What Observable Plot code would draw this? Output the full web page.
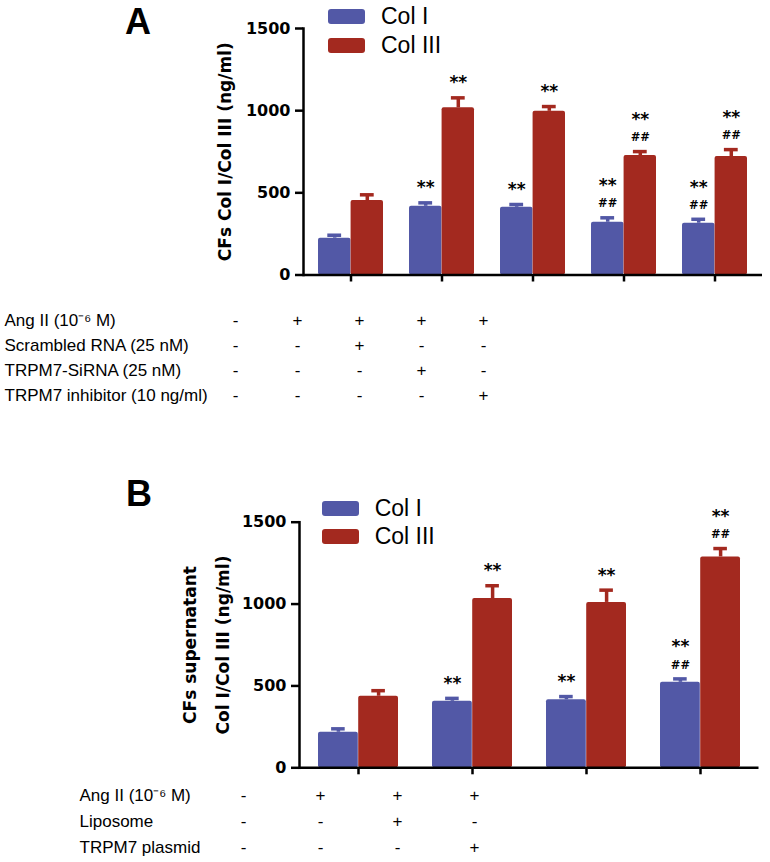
<!DOCTYPE html>
<html><head><meta charset="utf-8">
<script src="https://cdn.jsdelivr.net/npm/d3@7"></script>
<script src="https://cdn.jsdelivr.net/npm/@observablehq/plot@0.6"></script>
<style>
body{margin:0;background:#fff;}
#root{position:relative;width:770px;height:862px;overflow:hidden;font-family:"Liberation Sans",Arial,sans-serif;color:#000;}
#root svg{position:absolute;left:0;}
.abs{position:absolute;}
.letter{font-weight:bold;font-size:36px;line-height:36px;}
.leg{display:flex;align-items:center;font-size:23px;line-height:23px;height:15px;white-space:nowrap;}
.sw{width:37px;height:15px;border-radius:3px;margin-right:16px;flex:none;}
</style></head><body><div id="root"></div>
<script>
// ---- shared ----
const series = ["Col I", "Col III"];
const seriesColors = ["#5258a6", "#a3291f"];
const yTicks = [0, 500, 1000, 1500];

// ---- Panel A data ----
const groupsA = ["Control", "Ang II", "Ang II + Scrambled RNA", "Ang II + TRPM7-SiRNA", "Ang II + TRPM7 inhibitor"];
const colIA = [224, 418, 412, 321, 315];
const colIErrA = [18, 21, 17, 27, 24];
const colIIIA = [453, 1017, 996, 727, 721];
const colIIIErrA = [35, 61, 29, 24, 42];
const starsColIA = ["", "**", "**", "**", "**"];
const hashColIA = ["", "", "", "##", "##"];
const starsColIIIA = ["", "**", "**", "**", "**"];
const hashColIIIA = ["", "", "", "##", "##"];
const yLabelA = "CFs Col I/Col III (ng/ml)";
const rowLabelsA = ["Ang II (10⁻⁶ M)", "Scrambled RNA (25 nM)", "TRPM7-SiRNA (25 nM)", "TRPM7 inhibitor (10 ng/ml)"];
const rowSignsA = [
  ["-", "+", "+", "+", "+"],
  ["-", "-", "+", "-", "-"],
  ["-", "-", "-", "+", "-"],
  ["-", "-", "-", "-", "+"]
];

// ---- Panel B data ----
const groupsB = ["Control", "Ang II", "Ang II + Liposome", "Ang II + TRPM7 plasmid"];
const colIB = [217, 406, 415, 522];
const colIErrB = [21, 18, 20, 21];
const colIIIB = [437, 1034, 1010, 1288];
const colIIIErrB = [34, 78, 75, 51];
const starsColIB = ["", "**", "**", "**"];
const hashColIB = ["", "", "", "##"];
const starsColIIIB = ["", "**", "**", "**"];
const hashColIIIB = ["", "", "", "##"];
const yLabelB = "CFs supernatant\nCol I/Col III (ng/ml)";
const rowLabelsB = ["Ang II (10⁻⁶ M)", "Liposome", "TRPM7 plasmid"];
const rowSignsB = [
  ["-", "+", "+", "+"],
  ["-", "-", "+", "-"],
  ["-", "-", "-", "+"]
];

const root = document.getElementById("root");

function barPanel(o) {
  const n = o.groups.length;
  const pi = o.padInner, po = pi / 2;
  const step = (o.width - o.mL - o.mR) / (n - pi + 2 * po);
  const bw = step * (1 - pi);
  const capW = 14;
  const data = o.groups.map((g, i) => ({
    g, c1: o.c1[i], e1: o.e1[i], c3: o.c3[i], e3: o.e3[i],
    s1: o.s1[i], h1: o.h1[i], s3: o.s3[i], h3: o.h3[i]
  }));
  const [cB, cR] = seriesColors;
  const starSize = 17, hashSize = 11.5;
  const starAlone = -15, starStacked = -32, hashDy = -14;
  const marks = [
    Plot.barY(data, {x: "g", y: "c1", fill: cB, insetRight: bw / 2, rx: 2}),
    Plot.barY(data, {x: "g", y: "c3", fill: cR, insetLeft: bw / 2, rx: 2}),
    Plot.ruleX(data, {x: "g", y1: "c1", y2: d => d.c1 + d.e1, dx: -bw / 4, stroke: cB, strokeWidth: 3.5}),
    Plot.ruleX(data, {x: "g", y1: "c3", y2: d => d.c3 + d.e3, dx: bw / 4, stroke: cR, strokeWidth: 3.5}),
    Plot.tickY(data, {x: "g", y: d => d.c1 + d.e1, insetLeft: bw / 4 - capW / 2, insetRight: 3 * bw / 4 - capW / 2, stroke: cB, strokeWidth: 3.5}),
    Plot.tickY(data, {x: "g", y: d => d.c3 + d.e3, insetLeft: 3 * bw / 4 - capW / 2, insetRight: bw / 4 - capW / 2, stroke: cR, strokeWidth: 3.5}),
    // significance marks, Col I
    Plot.text(data.filter(d => d.s1 && !d.h1), {x: "g", y: d => d.c1 + d.e1, text: "s1", dx: -bw / 4, dy: starAlone, fontSize: starSize}),
    Plot.text(data.filter(d => d.s1 && d.h1), {x: "g", y: d => d.c1 + d.e1, text: "s1", dx: -bw / 4, dy: starStacked, fontSize: starSize}),
    Plot.text(data.filter(d => d.h1), {x: "g", y: d => d.c1 + d.e1, text: "h1", dx: -bw / 4, dy: hashDy, fontSize: hashSize}),
    // significance marks, Col III
    Plot.text(data.filter(d => d.s3 && !d.h3), {x: "g", y: d => d.c3 + d.e3, text: "s3", dx: bw / 4, dy: starAlone, fontSize: starSize}),
    Plot.text(data.filter(d => d.s3 && d.h3), {x: "g", y: d => d.c3 + d.e3, text: "s3", dx: bw / 4, dy: starStacked, fontSize: starSize}),
    Plot.text(data.filter(d => d.h3), {x: "g", y: d => d.c3 + d.e3, text: "h3", dx: bw / 4, dy: hashDy, fontSize: hashSize}),
    // axes
    Plot.ruleY([0], {strokeWidth: 2.5}),
    Plot.frame({anchor: "left", strokeWidth: 2.5}),
    Plot.axisY({ticks: yTicks, tickSize: 8, tickPadding: 5, strokeWidth: 2.5, tickFormat: d => String(d)}),
    Plot.axisX({tickSize: 7, strokeWidth: 2.5, tickFormat: () => ""}),
    Plot.text([o.yLabel], {frameAnchor: "left", textAnchor: "middle", lineAnchor: "middle", rotate: -90, dx: o.yLabelDx, fontSize: 17, lineHeight: 1.94})
  ];
  const svg = Plot.plot({
    width: o.width, height: o.height,
    marginLeft: o.mL, marginRight: o.mR, marginTop: o.mT, marginBottom: o.mB,
    style: "font-family: 'DejaVu Sans', sans-serif; font-weight: bold; font-size: 16px; color: #000; background: transparent; overflow: visible;",
    x: {type: "band", domain: o.groups, paddingInner: pi, paddingOuter: po, align: 0.5, label: null},
    y: {domain: [0, 1500], label: null},
    marks
  });
  svg.style.top = o.top + "px";
  root.appendChild(svg);
}

function tablePanel(o) {
  const cells = [];
  o.signs.forEach((row, r) => row.forEach((s, c) => cells.push({r, c, s})));
  const svg = Plot.plot({
    width: 770, height: o.height,
    marginLeft: o.labelX, marginRight: 0, marginTop: 0, marginBottom: 0,
    style: "font-family: 'Liberation Sans', Arial, sans-serif; font-size: 17px; color: #000; background: transparent; overflow: visible;",
    x: {type: "point", domain: d3.range(o.signs[0].length), range: o.xRange, padding: 0, axis: null},
    y: {type: "point", domain: d3.range(o.labels.length), range: o.yRange, padding: 0, axis: null},
    marks: [
      Plot.text(o.labels, {y: (d, i) => i, text: d => d, frameAnchor: "left", textAnchor: "start"}),
      Plot.text(cells, {x: "c", y: "r", text: "s"})
    ]
  });
  svg.style.top = o.top + "px";
  root.appendChild(svg);
}

function legend(o) {
  series.forEach((s, i) => {
    const div = document.createElement("div");
    div.className = "abs leg";
    div.style.left = o.x + "px";
    div.style.top = o.ys[i] + "px";
    div.innerHTML = `<div class="sw" style="background:${seriesColors[i]}"></div><span></span>`;
    div.querySelector("span").textContent = s;
    root.appendChild(div);
  });
}

function letter(t, x, y) {
  const d = document.createElement("div");
  d.className = "abs letter";
  d.style.left = x + "px";
  d.style.top = y + "px";
  d.textContent = t;
  root.appendChild(d);
}

// Panel A
barPanel({groups: groupsA, c1: colIA, e1: colIErrA, c3: colIIIA, e3: colIIIErrA,
  s1: starsColIA, h1: hashColIA, s3: starsColIIIA, h3: hashColIIIA,
  width: 770, height: 290, mL: 303, mR: 8, mT: 28, mB: 15.5, top: 0, padInner: 0.29,
  yLabel: yLabelA, yLabelDx: -83});
tablePanel({labels: rowLabelsA, signs: rowSignsA, top: 300, height: 110, labelX: 4, xRange: [235, 483], yRange: [19, 95.5]});
legend({x: 328, ys: [9, 38]});
letter("A", 125, 3.5);

// Panel B
barPanel({groups: groupsB, c1: colIB, e1: colIErrB, c3: colIIIB, e3: colIIIErrB,
  s1: starsColIB, h1: hashColIB, s3: starsColIIIB, h3: hashColIIIB,
  width: 770, height: 310, mL: 299, mR: 11.5, mT: 51.7, mB: 12.7, top: 470, padInner: 0.30,
  yLabel: yLabelB, yLabelDx: -97.5});
tablePanel({labels: rowLabelsB, signs: rowSignsB, top: 780, height: 82, labelX: 79, xRange: [242, 475], yRange: [14, 67]});
legend({x: 321.7, ys: [500.7, 529]});
letter("B", 126, 476);
</script></body></html>
